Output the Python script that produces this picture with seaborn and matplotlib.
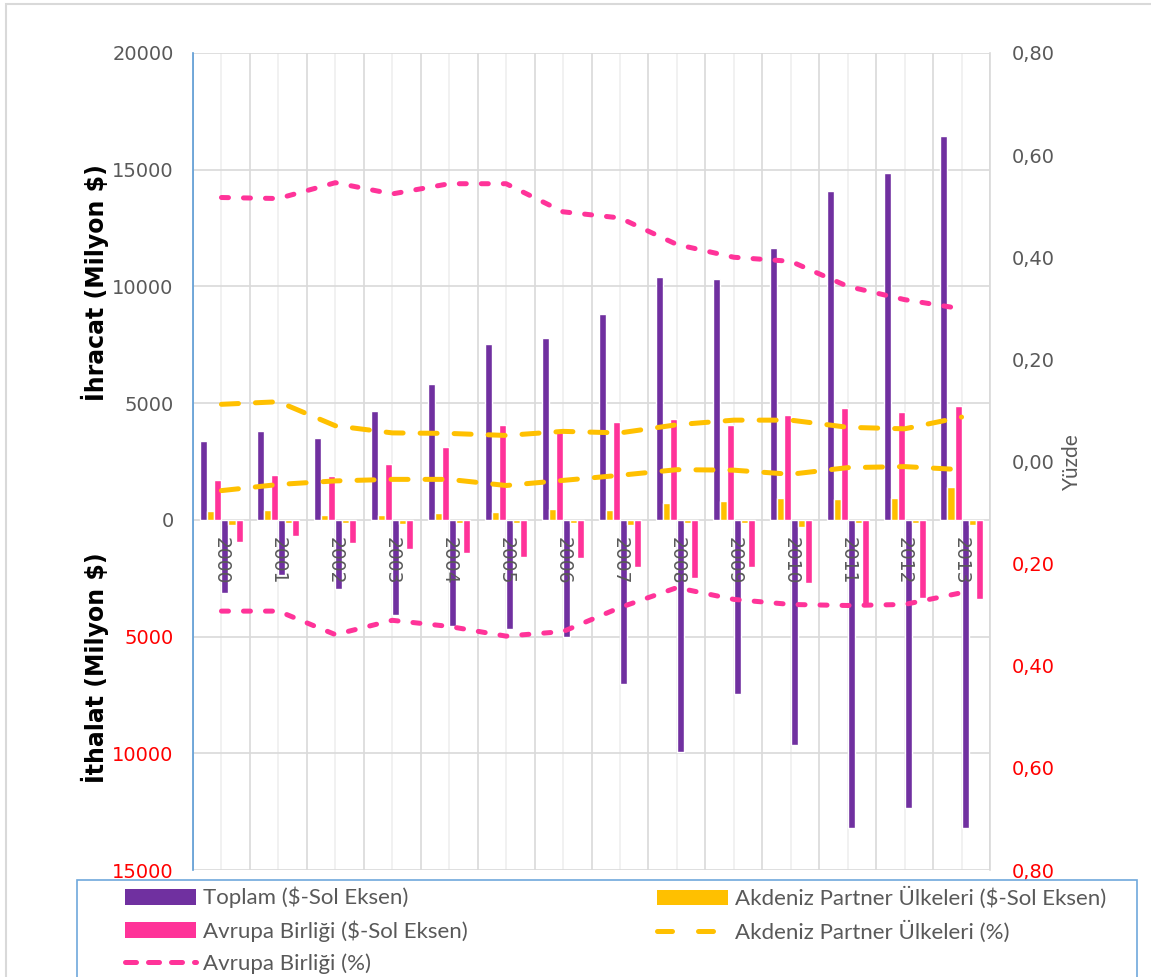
import numpy as np
import pandas as pd
import matplotlib.pyplot as plt
import seaborn as sns
from matplotlib.patches import Patch, Rectangle
from matplotlib.lines import Line2D

# values (Milyon $ and share)
years = [str(y) for y in range(2000, 2014)]
exp_total = [3390, 3790, 3500, 4680, 5800, 7550, 7780, 8840, 10390, 10300, 11640, 14080, 14880, 16460]
exp_akdeniz = [360, 430, 215, 215, 300, 350, 450, 430, 715, 815, 915, 890, 915, 1400]
exp_ab = [1715, 1930, 1890, 2400, 3130, 4080, 3770, 4175, 4330, 4050, 4500, 4790, 4620, 4890]
imp_total = [3150, 2360, 2975, 4080, 4550, 4680, 5020, 7040, 9960, 7470, 9660, 13220, 12360, 13220]
imp_akdeniz = [215, 115, 115, 170, 150, 150, 150, 210, 140, 140, 290, 150, 150, 210]
imp_ab = [930, 690, 1000, 1260, 1420, 1590, 1630, 2030, 2500, 2030, 2720, 3700, 3360, 3400]

exp_ab_pct = [0.517, 0.515, 0.546, 0.524, 0.544, 0.544, 0.489, 0.477, 0.425, 0.400, 0.392, 0.343, 0.317, 0.299]
exp_akd_pct = [0.112, 0.117, 0.070, 0.056, 0.055, 0.051, 0.059, 0.056, 0.072, 0.081, 0.081, 0.067, 0.064, 0.087]
imp_ab_pct = [0.293, 0.293, 0.339, 0.311, 0.323, 0.342, 0.333, 0.286, 0.247, 0.270, 0.280, 0.282, 0.280, 0.257]
imp_akd_pct = [0.057, 0.045, 0.038, 0.035, 0.035, 0.047, 0.037, 0.027, 0.016, 0.017, 0.025, 0.012, 0.010, 0.016]

left_ticks = [-15000, -10000, -5000, 0, 5000, 10000, 15000, 20000]
right_ticks = [-0.8, -0.6, -0.4, -0.2, 0.0, 0.2, 0.4, 0.6, 0.8]

PURPLE = '#7030A0'
ORANGE = '#FFC000'
PINK = '#FF3399'
GRAY = '#595959'
RED = '#FF0000'

sns.set_theme(style='white')
plt.rcParams['font.family'] = ['Lato', 'DejaVu Sans']

# long table: exports positive, imports negative
series = ['exp_top', 'exp_akd', 'exp_ab', 'imp_top', 'imp_akd', 'imp_ab']
cols = [exp_total, exp_akdeniz, exp_ab,
        [-v for v in imp_total], [-v for v in imp_akdeniz], [-v for v in imp_ab]]
rows = []
for name, vals in zip(series, cols):
    for yr, v in zip(years, vals):
        rows.append({'year': yr, 'series': name, 'value': v})
df = pd.DataFrame(rows)
palette = dict(zip(series, [PURPLE, ORANGE, PINK, PURPLE, ORANGE, PINK]))

fig = plt.figure(figsize=(11.51, 9.77), dpi=100)
ax = fig.add_axes([193 / 1151, 1 - 870 / 977, (990 - 193) / 1151, (870 - 53) / 977])

sns.barplot(data=df, x='year', y='value', hue='series', hue_order=series,
            order=years, palette=palette, width=0.74, saturation=1,
            errorbar=None, legend=False, ax=ax, zorder=3)

n = len(years)
pos = np.arange(n)
ax.set_xlim(-0.5, n - 0.5)
ax.set_ylim(-15000, 20000)
ax.set_yticks(left_ticks)
ax.set_yticklabels([str(abs(t)) for t in left_ticks], fontsize=14, family='DejaVu Sans')
for t, lab in zip(left_ticks, ax.get_yticklabels()):
    lab.set_color(RED if t < 0 else GRAY)
ax.tick_params(axis='y', length=0, pad=14)

# vertical grid: dark at category borders, light at centres
ax.set_xticks(pos)
ax.set_xticklabels([])
ax.set_xticks(np.arange(-0.5, n, 1.0), minor=True)
ax.tick_params(axis='x', which='both', length=0)
ax.grid(axis='y', color='#D9D9D9', lw=1.2, zorder=0)
ax.grid(axis='x', which='minor', color='#D9D9D9', lw=1.2, zorder=0)
ax.grid(axis='x', which='major', color='#EFEFEF', lw=1.2, zorder=0)
ax.set_axisbelow(True)
ax.set_xlabel('')
ax.set_ylabel('')
for s in ['top', 'right', 'bottom']:
    ax.spines[s].set_visible(False)
ax.spines['left'].set_color('#5B9BD5')
ax.spines['left'].set_linewidth(1.2)

# year labels hang from the zero line, over the bars
for i, yr in zip(pos, years):
    ax.annotate(yr, (i, 0), xytext=(0, -12), textcoords='offset points',
                rotation=270, ha='center', va='top', fontsize=13.5, color=GRAY,
                family='DejaVu Sans', zorder=10, annotation_clip=False)

# share lines on right axis
ax2 = ax.twinx()
long_dash = (0, (3.4, 3.4))
short_dash = (0, (1.4, 3.0))
line_kw = dict(lw=3.6, solid_capstyle='round', dash_capstyle='round')
sns.lineplot(x=pos, y=exp_ab_pct, ax=ax2, color=PINK, linestyle=short_dash, **line_kw)
sns.lineplot(x=pos, y=[-v for v in imp_ab_pct], ax=ax2, color=PINK, linestyle=short_dash, **line_kw)
sns.lineplot(x=pos, y=exp_akd_pct, ax=ax2, color=ORANGE, linestyle=long_dash, **line_kw)
sns.lineplot(x=pos, y=[-v for v in imp_akd_pct], ax=ax2, color=ORANGE, linestyle=long_dash, **line_kw)
ax2.set_xlim(-0.5, n - 0.5)
ax2.set_ylim(-0.8, 0.8)
ax2.set_yticks(right_ticks)
ax2.set_yticklabels([f"{abs(t):.2f}".replace('.', ',') for t in right_ticks],
                    fontsize=14, family='DejaVu Sans')
for t, lab in zip(right_ticks, ax2.get_yticklabels()):
    lab.set_color(RED if t < 0 else GRAY)
ax2.tick_params(axis='y', length=0, pad=16)
ax2.set_ylabel('')
for s in ['top', 'left', 'bottom']:
    ax2.spines[s].set_visible(False)
ax2.spines['right'].set_color('#D9D9D9')
ax2.spines['right'].set_linewidth(1.2)

fig.text(95 / 1151, 1 - 283 / 977, 'İhracat (Milyon $)', rotation=90, ha='center', va='center',
         fontsize=17, fontweight='bold', color='black', family='DejaVu Sans')
fig.text(95 / 1151, 1 - 668 / 977, 'İthalat (Milyon $)', rotation=90, ha='center', va='center',
         fontsize=17, fontweight='bold', color='black', family='DejaVu Sans')
fig.text(1072 / 1151, 1 - 462 / 977, 'Yüzde', rotation=90, ha='center', va='center',
         fontsize=15, color=GRAY)

# legend: frame drawn separately, two columns placed by hand
leg_frame = Rectangle((77 / 1151, -0.01), (1137 - 77) / 1151, 0.01 + 1 - 880 / 977,
                      transform=fig.transFigure, fill=False, edgecolor='#6FA8DC', lw=1.2)
fig.patches.append(leg_frame)
pink_leg = (0, (2.2, 2.4))
orange_leg = (0, (3.0, 5.2))
col1 = [Patch(facecolor=PURPLE, edgecolor='none'),
        Patch(facecolor=PINK, edgecolor='none'),
        Line2D([], [], color=PINK, linestyle=pink_leg, **line_kw)]
col1_labels = ['Toplam ($-Sol Eksen)', 'Avrupa Birliği ($-Sol Eksen)', 'Avrupa Birliği (%)']
col2 = [Patch(facecolor=ORANGE, edgecolor='none'),
        Line2D([], [], color=ORANGE, linestyle=orange_leg, **line_kw)]
col2_labels = ['Akdeniz Partner Ülkeleri ($-Sol Eksen)', 'Akdeniz Partner Ülkeleri (%)']
leg_kw = dict(loc='upper left', frameon=False, fontsize=16, labelcolor=GRAY,
              handlelength=3.2, handleheight=0.7, handletextpad=0.3,
              labelspacing=0.52, borderpad=0, borderaxespad=0)
fig.legend(col1, col1_labels, bbox_to_anchor=(125 / 1151, 1 - 887 / 977), **leg_kw)
fig.legend(col2, col2_labels, bbox_to_anchor=(657 / 1151, 1 - 887 / 977), **leg_kw)

# outer chart border (right and bottom edges run past the image)
fig.patches.append(Rectangle((6 / 1151, -0.05), 1.1, 0.05 + 1 - 4 / 977,
                             transform=fig.transFigure, fill=False,
                             edgecolor='#D9D9D9', lw=1.5))

fig.savefig('out.png', dpi=100, facecolor='white')
